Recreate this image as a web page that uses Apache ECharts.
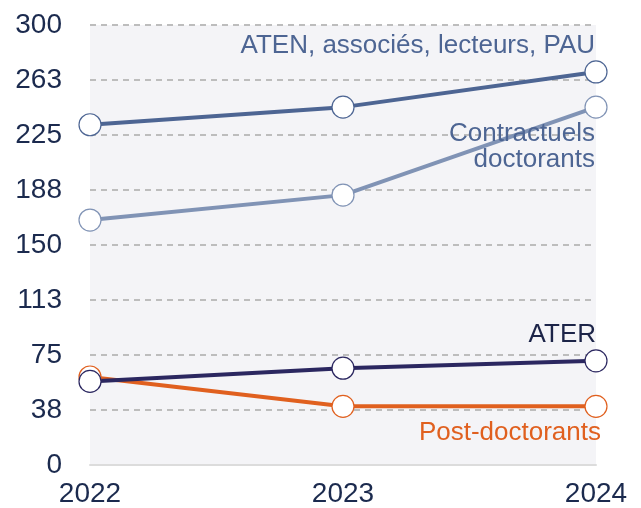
<!DOCTYPE html>
<html>
<head>
<meta charset="utf-8">
<script src="https://cdn.jsdelivr.net/npm/echarts@6/dist/echarts.min.js"></script>
<style>
  html, body { margin: 0; padding: 0; background: #fff; }
  #chart { width: 641px; height: 508px; }
</style>
</head>
<body>
<div id="chart"></div>
<script>
// données
const years = ['2022', '2023', '2024']
const yTickLabels = ['0', '38', '75', '113', '150', '188', '225', '263', '300']
const atenValues = [232, 244, 268]
const contractuelsValues = [167, 184, 244]
const aterValues = [57, 66, 71]
const postdocValues = [60, 40, 40]

const fontFamily = "'Liberation Sans', Arial, sans-serif"
const white = '#ffffff'

// label uniquement sur le dernier point
const withEndLabel = (values, label) => {
  return values.map((v, i) => {
    if (i === values.length - 1) {
      return { value: v, label: Object.assign({ show: true, position: 'inside', align: 'right', verticalAlign: 'middle', fontFamily: fontFamily, fontSize: 26 }, label) }
    }
    return v
  })
}

const makeSeries = (name, color, values, label) => {
  return {
    name: name,
    type: 'line',
    symbol: 'circle',
    symbolSize: 22,
    lineStyle: { color: color, width: 4 },
    itemStyle: { color: white, borderColor: color, borderWidth: 1.2 },
    label: { show: false },
    emphasis: { disabled: true },
    data: withEndLabel(values, label)
  }
}

const chart = echarts.init(document.getElementById('chart'))
chart.setOption({
  animation: false,
  backgroundColor: '#fff',
  grid: {
    left: 90,
    right: 45,
    top: 25,
    bottom: 42,
    show: true,
    backgroundColor: '#f4f4f7',
    borderWidth: 0
  },
  xAxis: {
    type: 'category',
    data: years,
    boundaryGap: false,
    axisLine: { show: true, lineStyle: { color: '#dcdcdc', width: 2 } },
    axisTick: { show: false },
    axisLabel: { color: '#1b2a4e', fontSize: 28, fontFamily: fontFamily, margin: 15 },
    splitLine: { show: false }
  },
  yAxis: {
    type: 'value',
    min: 0,
    max: 300,
    interval: 37.5,
    axisLine: { show: false },
    axisTick: { show: false },
    axisLabel: {
      color: '#1b2a4e',
      fontSize: 28,
      fontFamily: fontFamily,
      margin: 28,
      padding: [5, 0, 0, 0],
      formatter: (v) => yTickLabels[Math.round(v / 37.5)]
    },
    splitLine: { show: true, lineStyle: { color: '#bdbdbd', type: [6, 5], width: 2 } }
  },
  series: [
    makeSeries('Post-doctorants', '#e0601f', postdocValues, { formatter: 'Post-doctorants', color: '#e0601f', offset: [5, 26] }),
    makeSeries('ATER', '#2b2760', aterValues, { formatter: 'ATER', color: '#1c2448', offset: [0, -26] }),
    makeSeries('Contractuels doctorants', '#8093b5', contractuelsValues, { formatter: 'Contractuels\ndoctorants', color: '#4d6593', lineHeight: 26, offset: [-1, 40] }),
    makeSeries('ATEN, associés, lecteurs, PAU', '#4d6593', atenValues, { formatter: 'ATEN, associés, lecteurs, PAU', color: '#4d6593', offset: [-1, -26] })
  ]
})
</script>
</body>
</html>
